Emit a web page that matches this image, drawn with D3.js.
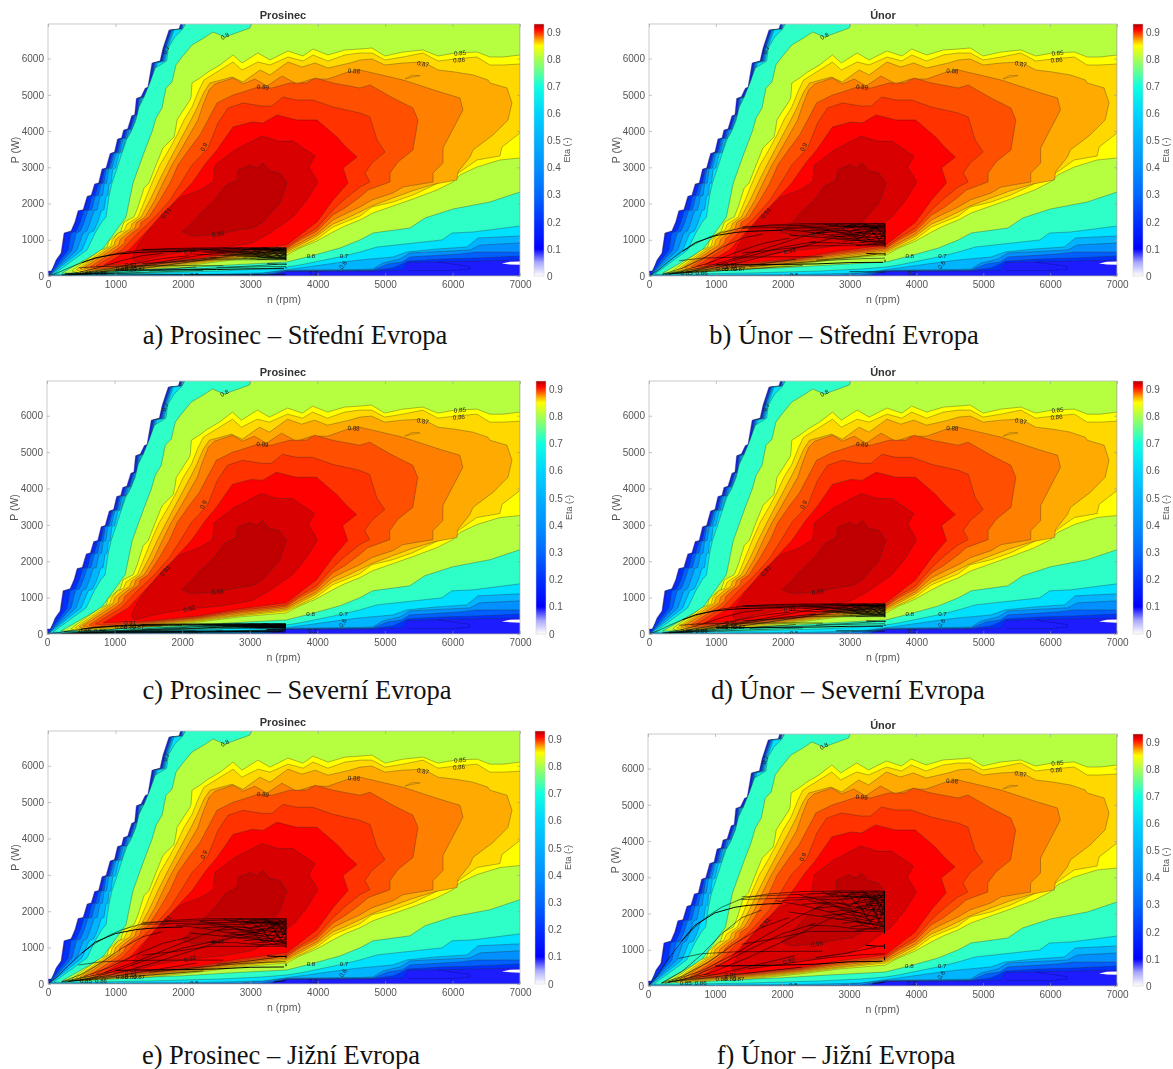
<!DOCTYPE html>
<html><head><meta charset="utf-8">
<script src="https://cdn.jsdelivr.net/npm/d3@7"></script>
<style>html,body{margin:0;padding:0;background:#fff}svg{display:block}</style>
</head><body><div id="chart"></div>
<script>
// ---------- values: contour outlines as [rpm, W] ----------
const c10=[[0,0],[0,138],[59,138],[119,442],[193,635],[237,1187],[341,1242],[400,1500],[445,1800],[520,1830],[580,2200],[640,2230],[690,2540],[750,2570],[800,2950],[860,2980],[920,3380],[985,3420],[1030,3780],[1090,3810],[1120,4030],[1180,4060],[1240,4420],[1285,4450],[1310,4900],[1380,4950],[1440,5180],[1480,5210],[1542,5879],[1661,5934],[1705,6293],[1794,6790],[1943,6817],[1972,7000],[7000,7000],[7000,0]];
const c20=[[15,19],[120,400],[210,620],[265,1190],[360,1245],[420,1500],[470,1800],[545,1830],[600,2200],[660,2230],[715,2540],[775,2570],[820,2950],[880,2980],[940,3380],[1005,3420],[1050,3780],[1110,3810],[1140,4030],[1200,4060],[1260,4420],[1305,4450],[1325,4900],[1400,4950],[1455,5180],[1500,5210],[1558,5879],[1675,5934],[1718,6293],[1810,6790],[1955,6817],[1985,7000],[7000,7000],[7000,442],[5339,373],[5265,166],[4820,135],[3544,125],[3400,80],[3300,10]];
const c30=[[15,19],[300,718],[340,1190],[420,1245],[480,1500],[530,1800],[600,1830],[650,2200],[700,2230],[750,2540],[800,2570],[840,2950],[900,2980],[960,3380],[1025,3420],[1070,3780],[1130,3810],[1160,4030],[1215,4060],[1275,4420],[1320,4450],[1340,4900],[1415,4950],[1470,5180],[1515,5210],[1572,5879],[1690,5934],[1730,6293],[1822,6790],[1965,6817],[1995,7000],[7000,7000],[7000,552],[6362,497],[5858,469],[5339,414],[5250,331],[5116,221],[4820,152],[3544,140],[3292,19]];
const c40=[[22,8],[356,718],[420,1190],[480,1245],[540,1500],[590,1800],[650,1830],[700,2200],[750,2230],[785,2540],[830,2570],[865,2950],[920,2980],[980,3380],[1045,3420],[1090,3780],[1150,3810],[1180,4030],[1232,4060],[1290,4420],[1335,4450],[1355,4900],[1430,4950],[1485,5180],[1530,5210],[1585,5879],[1702,5934],[1742,6293],[1835,6790],[1975,6817],[2005,7000],[7000,7000],[7000,662],[6362,662],[6110,607],[5368,524],[5250,386],[5042,331],[4820,166],[3544,150],[3174,28]];
const c50=[[30,28],[430,718],[520,1190],[575,1245],[630,1500],[680,1800],[730,1830],[770,2200],[810,2230],[830,2540],[870,2570],[900,2950],[950,2980],[1005,3380],[1070,3420],[1115,3780],[1170,3810],[1205,4030],[1255,4060],[1310,4420],[1355,4450],[1375,4900],[1445,4950],[1500,5180],[1545,5210],[1600,5879],[1718,5934],[1755,6293],[1850,6790],[1990,6817],[2020,7000],[7000,7000],[7000,911],[6407,856],[6258,718],[5368,635],[5220,469],[4968,359],[4820,193],[4627,179],[3544,160],[2847,28],[30,8]];
const c60=[[44,41],[504,718],[610,1190],[680,1245],[740,1500],[790,1800],[830,1830],[860,2200],[890,2230],[905,2540],[935,2570],[960,2950],[1000,2980],[1050,3380],[1100,3420],[1150,3780],[1195,3810],[1240,4030],[1280,4060],[1335,4420],[1375,4450],[1395,4900],[1465,4950],[1520,5180],[1565,5210],[1620,5879],[1735,5934],[1775,6293],[1870,6790],[2005,6817],[2040,7000],[7000,7000],[7000,1104],[6377,1049],[6214,800],[5769,745],[5324,662],[5116,524],[4627,442],[4375,386],[3737,221],[3544,175],[3174,83],[2254,41],[178,19]];
const c70=[[89,55],[578,718],[700,1190],[800,1500],[860,1628],[905,2200],[949,2567],[1020,2950],[1112,3478],[1170,3780],[1231,3974],[1305,4306],[1350,4664],[1425,4940],[1510,5327],[1590,5741],[1760,5934],[1785,6293],[1880,6596],[1990,6800],[2055,7000],[7000,7000],[7000,1380],[6303,1214],[5991,1187],[5843,994],[4879,800],[4627,662],[4390,552],[3737,304],[3544,248],[3174,193],[2551,138],[1513,83],[252,41]];
const c80=[[208,83],[801,718],[1157,1628],[1261,2567],[1439,3478],[1542,3974],[1602,4361],[1691,4637],[1750,5189],[1839,5354],[1898,5824],[1987,6044],[2136,6376],[2313,6569],[2447,6734],[2625,6596],[2996,6845],[3025,7000],[7000,7000],[7000,2318],[6555,2042],[6006,1849],[5591,1601],[5368,1325],[4820,1187],[4627,994],[4330,773],[3900,552],[3544,386],[2699,304],[1958,221],[1068,166],[326,83]];
const c85=[[356,138],[430,248],[786,718],[880,800],[900,960],[1008,1132],[1075,1200],[1127,1490],[1275,1628],[1335,1904],[1424,2429],[1498,2567],[1602,3064],[1705,3533],[1869,3836],[1898,4112],[1913,4306],[2106,4858],[2121,4940],[2136,5327],[2254,5465],[2373,5630],[2551,5824],[2744,6100],[2877,5879],[3114,6155],[3292,5962],[3559,6210],[3782,6072],[3930,6265],[4152,6100],[4405,6238],[4627,6265],[4805,6293],[4998,6072],[5265,6182],[5561,6238],[5784,6072],[6036,6155],[6362,6182],[6555,6044],[6748,6044],[7000,6100],[7000,3257],[6703,3202],[6362,3008],[6110,2788],[6006,2594],[5769,2374],[5413,2125],[5116,1932],[4820,1739],[4627,1546],[4405,1380],[4227,1214],[3989,966],[3737,773],[3544,580],[2847,469],[2254,331],[1513,193],[475,83]];
const c86=[[415,166],[830,718],[930,830],[950,980],[1038,1187],[1130,1250],[1170,1430],[1335,1628],[1439,2098],[1542,2567],[1661,3064],[1809,3533],[1913,3892],[2017,4306],[2136,4664],[2239,5134],[2313,5410],[2744,5906],[2877,5686],[3114,5906],[3292,5824],[3559,6044],[3782,5934],[3930,6100],[4152,5934],[4405,6100],[4627,6155],[4805,6155],[4998,5962],[5265,6044],[5561,6155],[5784,5934],[6036,5989],[6362,6044],[6555,5824],[6748,5824],[7000,5851],[7000,3947],[6733,3560],[6703,3312],[6362,3202],[6065,2815],[5665,2456],[5413,2236],[5116,2042],[4805,1904],[4627,1656],[4405,1490],[4227,1352],[3989,1021],[3737,800],[3544,635],[2847,497],[2254,359],[1513,221],[534,110]];
const c87=[[475,193],[875,718],[980,850],[1000,1000],[1142,1214],[1220,1300],[1250,1450],[1379,1628],[1513,2098],[1631,2567],[1765,3064],[1898,3533],[2121,4306],[2210,4637],[2313,5078],[2402,5327],[2729,5492],[2892,5354],[3144,5686],[3292,5548],[3559,5906],[3767,5768],[3960,5879],[4152,5741],[4479,5879],[4627,5962],[4805,5989],[4998,5824],[5265,5879],[5561,5906],[5784,5686],[6036,5630],[6303,5548],[6525,5410],[6555,5327],[6807,5189],[6881,4775],[6822,4306],[6599,3892],[6303,3478],[6258,3284],[6080,2870],[6065,2650],[5739,2539],[5398,2346],[5116,2153],[4805,1932],[4627,1766],[4405,1573],[4227,1435],[3989,1104],[3737,856],[3544,676],[2847,524],[2254,386],[1513,248],[593,138]];
const c88=[[534,221],[934,718],[1050,860],[1070,1010],[1186,1187],[1290,1320],[1310,1470],[1439,1628],[1587,2098],[1705,2567],[1839,3064],[1987,3533],[2224,4306],[2299,4720],[2388,5134],[2477,5299],[2744,5465],[2892,5299],[3070,5437],[3248,5244],[3470,5520],[3693,5299],[3915,5437],[4152,5437],[4449,5630],[4627,5686],[5265,5410],[5813,5078],[6110,4913],[6154,4582],[5858,3533],[5858,3119],[5710,2843],[5710,2594],[5265,2456],[5116,2291],[4805,2098],[4627,1904],[4405,1711],[4227,1546],[3989,1159],[3737,911],[3544,718],[2847,566],[2254,414],[1513,276],[653,166]];
const c89=[[623,248],[1008,718],[1130,900],[1150,1030],[1246,1187],[1360,1340],[1380,1480],[1498,1628],[1661,2098],[1809,2567],[1928,3064],[2106,3533],[2254,3892],[2373,4306],[2506,4775],[2744,4996],[2892,5078],[3114,5216],[3322,5189],[3589,5327],[3841,5327],[3960,5465],[4227,5327],[4627,5189],[4775,5272],[5116,4913],[5413,4637],[5487,4306],[5413,3478],[5190,3146],[5072,2843],[5072,2594],[4746,2374],[4627,2180],[4405,1877],[4227,1684],[3989,1242],[3737,994],[3544,759],[2847,607],[2254,442],[1513,304],[712,193]];
const c895=[[712,276],[1097,718],[1335,1187],[1587,1628],[1809,2098],[1972,2567],[2136,3064],[2373,3533],[2521,4223],[2669,4637],[2892,4775],[3174,4692],[3322,4692],[3485,4940],[3693,4858],[3930,4858],[4227,4664],[4627,4499],[4775,4388],[4879,3754],[4998,3422],[4805,3119],[4701,2843],[4775,2594],[4627,2456],[4405,2125],[4227,1822],[3989,1325],[3737,1049],[3544,800],[2847,649],[2254,469],[1513,331],[830,248]];
const c90=[[830,304],[1201,718],[1439,1187],[1676,1628],[1898,2098],[2136,2567],[2343,3119],[2506,3478],[2744,4112],[3025,4250],[3188,4223],[3396,4444],[3693,4306],[3989,4306],[4286,3836],[4434,3533],[4582,3284],[4375,2981],[4449,2567],[4227,2098],[3989,1490],[3737,1132],[3544,856],[2847,690],[2254,497],[1513,359]];
const c91=[[1246,497],[1335,856],[1513,1325],[1705,1739],[1972,2180],[2254,2374],[2447,2594],[2477,3064],[2773,3478],[3174,3864],[3411,3726],[3633,3726],[3960,3312],[3871,3008],[4004,2594],[3841,2098],[3633,1628],[3292,1187],[3025,911],[2580,773],[2106,690],[1661,552],[1290,386]];
const c93=[[1987,1214],[2106,1408],[2284,1766],[2477,2098],[2625,2484],[2803,2650],[2818,2926],[2996,3064],[3100,2981],[3188,3119],[3292,2898],[3441,2843],[3544,2567],[3441,2015],[3188,1490],[3040,1325],[2892,1297],[2521,1159],[2150,1104]];
const islandOrange=[[5295,5440],[5400,5540],[5520,5530],[5400,5490]];
const innerBlue=[[5783,386],[6258,262],[6258,193],[6036,152],[5339,152]];
const whiteGap=[[6730,345],[6850,395],[7000,400],[7000,310],[6850,320]];

const contourList=[c10,c20,c30,c40,c50,c60,c70,c80,c85,c86,c87,c88,c89,c895,c90,c91,c93];
const contourColors=["#1c1cff","#0033ff","#0060ff","#0090ff","#00b4ff","#00e0ff","#2dffc8","#b5ff40","#ffff00","#ffd800","#ffaa00","#ff8000","#ff5000","#ff3000","#ff0000","#d80000","#c00000"];

const labelTexts=["0.7","0.8","0.85","0.86","0.87","0.88","0.89","0.9","0.91","0.93","0.92","0.8","0.7","0.6","0.5","0.2","0.85","0.86","0.88","0.89","0.87","0.91"];
const labelRpm=[1750,2625,6110,6095,5561,4538,3188,2313,1750,2521,2106,3900,4390,4375,2170,3930,563,786,1097,1230,1350,1231];
const labelW=[6238,6624,6155,5962,5851,5658,5216,3560,1739,1159,690,552,552,304,28,91,91,91,190,190,190,304];
const labelAngle=[-60,-30,-5,-4,10,3,5,-65,-50,-8,-15,0,0,-55,0,0,0,0,0,0,0,0];

// operating-point traces: [rpm, share of the month's peak power]
const tracesThin=[
[[0,0],[150,.12],[300,.28],[500,.47],[700,.62],[900,.74],[1100,.83],[1400,.92],[1800,.97],[2300,.995],[2800,1],[3530,1]],
[[1380,.91],[1800,.92],[2200,.93],[2700,.94],[3530,.95]],
[[1400,.94],[1900,.955],[2400,.97],[2900,.985],[3530,.99]],
[[2000,.9],[2500,.92],[2800,.905],[3100,.935],[3530,.93]],
[[2300,.86],[2700,.88],[3000,.86],[3300,.89],[3530,.88]],
[[2500,.82],[2800,.84],[3050,.81],[3300,.85],[3530,.84]],
[[2700,.78],[2950,.8],[3150,.77],[3350,.81],[3530,.8]],
[[2600,.74],[2900,.76],[3200,.73],[3530,.76]],
[[2800,.7],[3050,.72],[3250,.69],[3530,.72]],
[[2900,.66],[3100,.68],[3300,.65],[3530,.68]],
[[3000,.62],[3200,.64],[3350,.61],[3530,.63]],
[[3100,.58],[3300,.6],[3530,.59]],
[[3000,.97],[3200,.99],[3350,.96],[3530,.98]],
[[2900,.95],[3150,.97],[3350,.94],[3530,.96]],
[[2950,.91],[3200,.95],[3400,.92],[3530,.94]],
[[3050,.87],[3250,.91],[3530,.9]],
[[3100,.83],[3350,.87],[3530,.86]],
[[3200,.98],[3400,.9],[3530,.97]],
[[3250,.75],[3400,.83],[3530,.74]],
[[3300,.92],[3450,.7],[3530,.88]],
[[2600,.99],[2750,.95],[2850,1],[2950,.93],[3050,.99],[3150,.91],[3250,.98],[3350,.89],[3450,.97],[3530,.86]],
[[2800,.96],[2900,.9],[3000,.97],[3100,.86],[3200,.95],[3300,.82],[3400,.93],[3530,.8]],
[[2900,.89],[3000,.83],[3100,.9],[3200,.79],[3300,.88],[3400,.76],[3480,.86],[3530,.72]],
[[3000,.84],[3080,.77],[3180,.84],[3260,.72],[3350,.81],[3440,.69],[3530,.78]],
[[3050,.76],[3130,.7],[3220,.77],[3310,.66],[3400,.75],[3470,.63],[3530,.71]],
[[3100,.71],[3200,.64],[3290,.71],[3380,.61],[3460,.69],[3530,.6]],
[[2400,.9],[2700,.86],[2950,.79],[3150,.74],[3350,.68],[3530,.65]],
[[2250,.96],[2600,.9],[2900,.82],[3200,.76],[3530,.7]],
[[1900,.9],[2300,.85],[2700,.78],[3100,.69],[3530,.62]],
[[2100,.78],[2500,.74],[2900,.7],[3250,.66],[3530,.64]],
[[2400,.64],[2800,.63],[3100,.6],[3530,.61]],
[[3200,1],[3300,.95],[3400,1],[3480,.94],[3530,1]],
[[3300,.85],[3380,.96],[3450,.82],[3530,.93]],
[[3350,.78],[3430,.9],[3490,.74],[3530,.85]],
[[2700,.97],[3000,.94],[3250,.93],[3530,.91]],
[[2800,.88],[3100,.83],[3350,.8],[3530,.77]],
[[300,.04],[800,.16],[1300,.34],[1800,.55],[2300,.75],[2700,.88]],
[[300,.04],[900,.13],[1500,.3],[2200,.53],[2800,.74],[3300,.83]],
[[200,.03],[500,.15],[800,.33],[1100,.55],[1400,.72],[1700,.8]],
[[200,.03],[500,.1],[900,.25],[1300,.45],[1700,.62],[2100,.72]],
[[250,.03],[600,.08],[1000,.2],[1500,.38],[2000,.55],[2500,.66]],
[[400,.05],[1000,.12],[1600,.22],[2200,.32]],
[[1400,.44],[1900,.5],[2400,.575],[3530,.575]],
[[300,.04],[800,.08],[1300,.12],[1800,.16],[2300,.2]],
[[450,.29],[800,.34],[1300,.36],[2000,.365],[2600,.365]],
[[1500,.18],[2100,.24],[2700,.3],[3200,.33],[3530,.34]],
[[2500,.3],[2900,.34],[3200,.38],[3400,.41]]
];
const tracesThick=[
[[500,.47],[700,.64],[1000,.77],[1300,.83],[1500,.85],[1800,.865],[2000,.87]],
[[1000,.21],[1500,.215],[2000,.22],[2500,.23],[3000,.255],[3500,.26]],
[[3250,.43],[3400,.42],[3530,.42]],
[[3530,.55],[3530,1]],
[[3530,.39],[3530,.44]],
[[3530,.27],[3530,.31]]
];
const panelTitles=["Prosinec","Únor","Prosinec","Únor","Prosinec","Únor"];
const panelCaptions=["a) Prosinec – Střední Evropa","b) Únor – Střední Evropa","c) Prosinec – Severní Evropa","d) Únor – Severní Evropa","e) Prosinec – Jižní Evropa","f) Únor – Jižní Evropa"];
const peakPower=[780,1450,280,830,1800,2620];
const lowTraces=[[[250,70],[900,55],[1800,45],[2600,40],[3530,45]],[[3000,120],[3530,110]],[[250,60],[1500,50],[3530,55]],[[2800,90],[3530,80]],[[3350,60],[3530,90]],[[3350,70],[3530,100]]];
const xTicks=[0,1000,2000,3000,4000,5000,6000,7000];
const yTicks=[0,1000,2000,3000,4000,5000,6000];
const etaTicks=[0,.1,.2,.3,.4,.5,.6,.7,.8,.9];
const etaStops=[0,.05,.1,.2,.3,.4,.5,.6,.7,.8,.85,.87,.89,.91,.93];
const etaColors=["#ffffff","#a8a8ff","#0000ff","#0030ff","#0068ff","#0090ff","#00b0ff","#00d4ff","#10ffe0","#a8ff50","#ffff00","#ffb000","#ff5000","#ff0000","#a80000"];

// ---------- layout ----------
const layout=[
 {l:48,r:520,t:24,b:276,cl:534,cap:336,capx:295,tx:283},
 {l:649,r:1117,t:24,b:276,cl:1133,cap:336,capx:844,tx:883},
 {l:47,r:520,t:381,b:634,cl:536,cap:691,capx:297,tx:283},
 {l:649,r:1117,t:381,b:634,cl:1133,cap:691,capx:848,tx:883},
 {l:48,r:520,t:731,b:984,cl:535,cap:1056,capx:281,tx:283},
 {l:648,r:1117,t:734,b:986,cl:1133,cap:1056,capx:836,tx:883}
];
const svg=d3.select("#chart").append("svg").attr("width",1173).attr("height",1069).style("font-family","'Liberation Sans',Arial,sans-serif");
const defs=svg.append("defs");
const etaScale=d3.scaleLinear().domain([0,.93]);
const grad=defs.append("linearGradient").attr("id","etaGrad").attr("x1",0).attr("x2",0).attr("y1",1).attr("y2",0);
etaStops.forEach((s,i)=>grad.append("stop").attr("offset",etaScale(s)).attr("stop-color",etaColors[i]));
const soft=defs.append("filter").attr("id","soft").attr("x","-2%").attr("y","-2%").attr("width","104%").attr("height","104%");
soft.append("feGaussianBlur").attr("stdDeviation",.35);

layout.forEach((p,i)=>{
  const g=svg.append("g");
  const x=d3.scaleLinear().domain([0,7000]).range([p.l,p.r]);
  const y=d3.scaleLinear().domain([0,6955]).range([p.b,p.t]);
  const line=d3.line().x(d=>x(d[0])).y(d=>y(d[1]));
  defs.append("clipPath").attr("id","clip"+i).append("rect").attr("x",p.l).attr("y",p.t).attr("width",p.r-p.l).attr("height",p.b-p.t);
  const plot=g.append("g").attr("clip-path",`url(#clip${i})`).append("g").attr("filter","url(#soft)");
  plot.append("rect").attr("x",p.l).attr("y",p.t).attr("width",p.r-p.l).attr("height",p.b-p.t).attr("fill","#fff");
  contourList.forEach((c,k)=>{
    plot.append("path").attr("d",line(c)+"Z").attr("fill",contourColors[k]).attr("stroke","#2a2a2a").attr("stroke-width",.45).attr("stroke-opacity",.75).attr("stroke-linejoin","round");
  });
  plot.append("path").attr("d",line(islandOrange)+"Z").attr("fill","#ffaa00").attr("stroke","#333").attr("stroke-width",.4).attr("stroke-opacity",.7);
  plot.append("path").attr("d",line(innerBlue)).attr("fill","none").attr("stroke","#10108a").attr("stroke-width",.45);
  plot.append("path").attr("d",line(whiteGap)+"Z").attr("fill","#fff");
  // contour labels
  labelTexts.forEach((t,k)=>{
    plot.append("text").attr("transform",`translate(${x(labelRpm[k])},${y(labelW[k])}) rotate(${labelAngle[k]})`)
      .attr("text-anchor","middle").attr("dy","0.35em").attr("font-size",6.2).attr("fill","#1a1a1a").text(t);
  });
  // traces
  const traceLine=d3.line().x(d=>x(d[0])).y(d=>y(d[1]*peakPower[i]));
  tracesThin.forEach(s=>plot.append("path").attr("d",traceLine(s)).attr("fill","none").attr("stroke","#000").attr("stroke-width",.6).attr("stroke-opacity",.9));
  tracesThick.forEach(s=>plot.append("path").attr("d",traceLine(s)).attr("fill","none").attr("stroke","#000").attr("stroke-width",.95));
  plot.append("path").attr("d",line(lowTraces[i])).attr("fill","none").attr("stroke","#000").attr("stroke-width",.7);
  // frame and axes
  g.append("rect").attr("x",p.l).attr("y",p.t).attr("width",p.r-p.l).attr("height",p.b-p.t).attr("fill","none").attr("stroke","#bdbdbd").attr("stroke-width",.8);
  const style=s=>{s.select(".domain").remove();s.selectAll("line").attr("stroke","#9a9a9a").attr("stroke-width",.6);s.selectAll("text").attr("fill","#555").attr("font-size",10);};
  g.append("g").attr("transform",`translate(0,${p.b})`).call(d3.axisBottom(x).tickValues(xTicks).tickSize(-3).tickPadding(5).tickFormat(d3.format("d"))).call(style);
  g.append("g").attr("transform",`translate(${p.l},0)`).call(d3.axisLeft(y).tickValues(yTicks).tickSize(-3).tickPadding(4).tickFormat(d3.format("d"))).call(style);
  g.append("g").attr("transform",`translate(0,${p.t})`).call(d3.axisTop(x).tickValues(xTicks).tickSize(-3).tickFormat("")).call(style);
  g.append("g").attr("transform",`translate(${p.r},0)`).call(d3.axisRight(y).tickValues(yTicks).tickSize(-3).tickFormat("")).call(style);
  const mid=(p.l+p.r)/2;
  g.append("text").attr("x",p.tx).attr("y",p.t-5).attr("text-anchor","middle").attr("font-size",11).attr("font-weight","bold").attr("fill","#333").text(panelTitles[i]);
  g.append("text").attr("x",mid).attr("y",p.b+27).attr("text-anchor","middle").attr("font-size",10.5).attr("fill","#555").text("n (rpm)");
  g.append("text").attr("transform",`translate(${p.l-29},${(p.t+p.b)/2}) rotate(-90)`).attr("text-anchor","middle").attr("font-size",10.5).attr("fill","#555").text("P (W)");
  // colour bar
  const cw=10;
  const eta=d3.scaleLinear().domain([0,.93]).range([p.b,p.t]);
  g.append("rect").attr("x",p.cl).attr("y",p.t).attr("width",cw).attr("height",p.b-p.t).attr("fill","url(#etaGrad)").attr("stroke","#ccc").attr("stroke-width",.5);
  g.append("g").attr("transform",`translate(${p.cl+cw},0)`).call(d3.axisRight(eta).tickValues(etaTicks).tickSize(0).tickPadding(3).tickFormat(d=>d===0?"0":d3.format(".1f")(d))).call(style);
  g.append("text").attr("transform",`translate(${p.cl+36},${(p.t+p.b)/2}) rotate(-90)`).attr("text-anchor","middle").attr("font-size",9).attr("fill","#555").text("Eta (-)");
  // caption
  svg.append("text").attr("x",p.capx).attr("y",p.cap+8).attr("text-anchor","middle").attr("font-family","'Liberation Serif','Times New Roman',serif").attr("font-size",26.5).attr("fill","#111").text(panelCaptions[i]);
});
</script></body></html>
